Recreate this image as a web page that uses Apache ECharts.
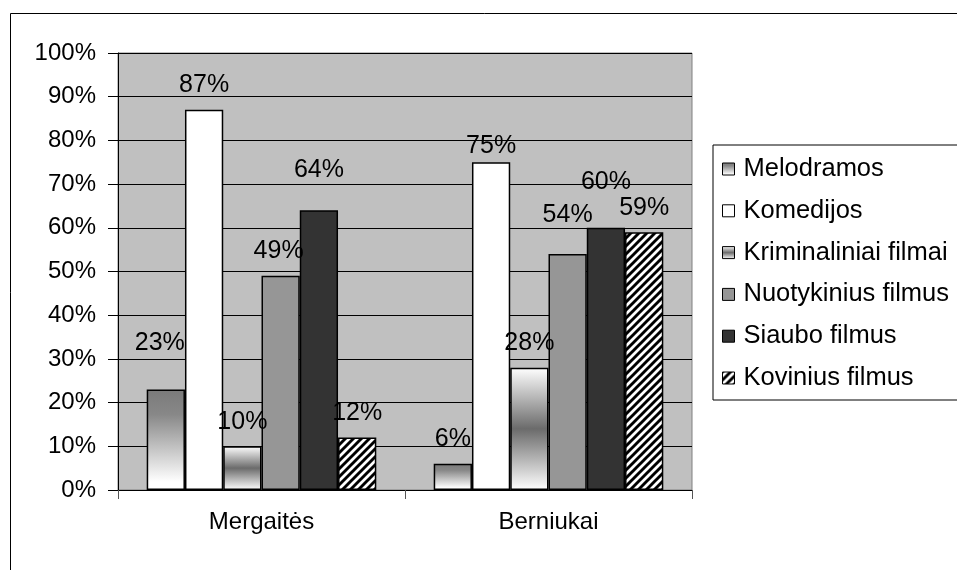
<!DOCTYPE html>
<html>
<head>
<meta charset="utf-8">
<script src="https://cdn.jsdelivr.net/npm/echarts@6/dist/echarts.min.js"></script>
<style>
html,body{margin:0;padding:0;background:#fff;}
#chart{width:957px;height:570px;}
</style>
</head>
<body>
<div id="chart"></div>
<script>
// ---- data ----
var categories = ['Mergaitės', 'Berniukai'];
var seriesNames = ['Melodramos', 'Komedijos', 'Kriminaliniai filmai', 'Nuotykinius filmus', 'Siaubo filmus', 'Kovinius filmus'];
var melodramos   = [23, 6];
var komedijos    = [87, 75];
var kriminaliniai = [10, 28];
var nuotykinius  = [49, 54];
var siaubo       = [64, 60];
var kovinius     = [12, 59];
var yTicks = [0, 10, 20, 30, 40, 50, 60, 70, 80, 90, 100];

// ---- styling ----
var FONT = "'Liberation Sans', Arial, sans-serif";
var labelLift = [[22, 0], [0, -8], [0, 0], [0, 14], [16, 21], [0, 0]];
var labelShiftX = [[-6, 0], [0, 0], [0, 0], [-2, 0], [0, 0], [0, 0]];

function hatch() {
  var c = document.createElement('canvas');
  c.width = 8; c.height = 8;
  var g = c.getContext('2d');
  g.fillStyle = '#fff'; g.fillRect(0, 0, 8, 8);
  g.strokeStyle = '#000'; g.lineWidth = 2.9; g.lineCap = 'square';
  g.beginPath();
  g.moveTo(0, 8); g.lineTo(8, 0);
  g.moveTo(-2, 2); g.lineTo(2, -2);
  g.moveTo(6, 10); g.lineTo(10, 6);
  g.stroke();
  return c;
}

var fills = [
  {type: 'linear', x: 0, y: 0, x2: 0, y2: 1, colorStops: [
    {offset: 0, color: '#7a7a7a'}, {offset: 0.25, color: '#888888'}, {offset: 0.92, color: '#ffffff'}, {offset: 1, color: '#ffffff'}]},
  '#ffffff',
  {type: 'linear', x: 0, y: 0, x2: 0, y2: 1, colorStops: [
    {offset: 0, color: '#ffffff'}, {offset: 0.5, color: '#6b6b6b'}, {offset: 1, color: '#ffffff'}]},
  '#969696',
  '#333333',
  {image: hatch(), repeat: 'repeat'}
];

var values = [melodramos, komedijos, kriminaliniai, nuotykinius, siaubo, kovinius];

var series = seriesNames.map(function (name, i) {
  return {
    name: name,
    type: 'bar',
    barGap: '0%',
    barCategoryGap: '20%',
    itemStyle: {color: fills[i], borderColor: '#000', borderWidth: 1.5},
    label: {
      show: true, position: 'top', distance: 12,
      formatter: '{c}%', color: '#000', fontSize: 25, fontFamily: FONT
    },
    data: values[i].map(function (v, j) {
      return {value: v, label: {distance: 12 + labelLift[i][j], offset: [labelShiftX[i][j], 0]}};
    })
  };
});

var chart = echarts.init(document.getElementById('chart'), null, {renderer: 'canvas'});
chart.setOption({
  animation: false,
  backgroundColor: '#fff',
  textStyle: {fontFamily: FONT},
  graphic: [{
    type: 'rect', left: 8, top: 11, z: -10,
    shape: {width: 1000, height: 600},
    style: {fill: 'none', stroke: '#000', lineWidth: 1}
  }],
  grid: {
    left: 118, right: 265, top: 53, bottom: 80,
    show: true, backgroundColor: '#c0c0c0', borderColor: '#808080', borderWidth: 1
  },
  legend: {
    orient: 'vertical', left: 713, top: 145,
    padding: [10, 60, 8, 9],
    itemGap: 13.8, itemWidth: 12, itemHeight: 12,
    icon: 'rect',
    borderColor: '#000', borderWidth: 1, backgroundColor: '#fff',
    itemStyle: {borderColor: '#000', borderWidth: 1},
    textStyle: {fontSize: 25.5, color: '#000', fontFamily: FONT, lineHeight: 28, padding: [0, 0, 0, 4]},
    data: seriesNames
  },
  xAxis: {
    type: 'category', data: categories,
    axisLine: {lineStyle: {color: '#000', width: 1}},
    axisTick: {show: true, length: 9, lineStyle: {color: '#555'}},
    axisLabel: {fontSize: 24, color: '#000', fontFamily: FONT, margin: 20},
    splitLine: {show: false}
  },
  yAxis: {
    type: 'value', min: yTicks[0], max: yTicks[yTicks.length - 1], interval: yTicks[1] - yTicks[0],
    axisLine: {show: true, lineStyle: {color: '#000', width: 1}},
    axisTick: {show: true, length: 10, lineStyle: {color: '#000'}},
    axisLabel: {fontSize: 24, color: '#000', fontFamily: FONT, margin: 22, formatter: '{value}%'},
    splitLine: {show: true, lineStyle: {color: '#000', width: 1}}
  },
  series: series
});
</script>
</body>
</html>
